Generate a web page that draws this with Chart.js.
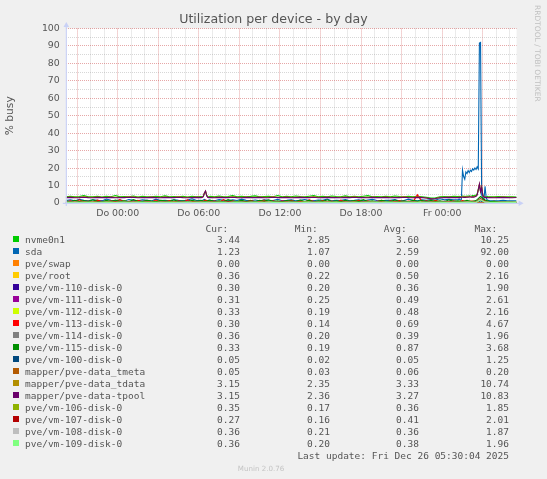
<!DOCTYPE html>
<html><head><meta charset="utf-8">
<script src="https://cdn.jsdelivr.net/npm/chart.js@4.4.1/dist/chart.umd.min.js"></script>
<style>
html,body{margin:0;padding:0;background:#f0f0f0;}
#wrap{position:relative;width:547px;height:479px;background:#f0f0f0;overflow:hidden;}
#wrap canvas{position:absolute;left:0;top:0;}
.t{position:absolute;white-space:pre;font-family:"DejaVu Sans Mono",monospace;font-size:9.5px;line-height:12px;color:#555;}
.r{text-align:right;}
.sw{position:absolute;width:6px;height:6px;}
#rrd{position:absolute;left:533px;top:5px;writing-mode:vertical-rl;font-family:"DejaVu Sans",sans-serif;font-size:7.5px;line-height:9px;color:#c0c0c0;white-space:nowrap;}
#munin{position:absolute;left:0;width:522px;text-align:center;top:463.6px;font-family:"DejaVu Sans",sans-serif;font-size:7.1px;line-height:9px;color:#c4c4c4;white-space:nowrap;}
</style></head>
<body><div id="wrap"><canvas id="c" width="547" height="479"></canvas>
<div id="rrd">RRDTOOL / TOBI OETIKER</div>
<div id="munin">Munin 2.0.76</div>
</div>
<script>
// ---------- data ----------
const chartTitle = "Utilization per device - by day";
const yAxisTitle = "% busy";
const lastUpdate = "Last update: Fri Dec 26 05:30:04 2025";
const columnHeads = ["Cur:", "Min:", "Avg:", "Max:"];

const seriesNames = ["nvme0n1","sda","pve/swap","pve/root","pve/vm-110-disk-0","pve/vm-111-disk-0","pve/vm-112-disk-0","pve/vm-113-disk-0","pve/vm-114-disk-0","pve/vm-115-disk-0","pve/vm-100-disk-0","mapper/pve-data_tmeta","mapper/pve-data_tdata","mapper/pve-data-tpool","pve/vm-106-disk-0","pve/vm-107-disk-0","pve/vm-108-disk-0","pve/vm-109-disk-0"];
const seriesColors = ["#00CC00","#0066B3","#FF8000","#FFCC00","#330099","#990099","#CCFF00","#FF0000","#808080","#008F00","#00487D","#B35A00","#B38F00","#6B006B","#8FB300","#B30000","#BEBEBE","#80FF80"];

const curVals = [3.44,1.23,0.00,0.36,0.30,0.31,0.33,0.30,0.36,0.33,0.05,0.05,3.15,3.15,0.35,0.27,0.36,0.36];
const minVals = [2.85,1.07,0.00,0.22,0.20,0.25,0.19,0.14,0.20,0.19,0.02,0.03,2.35,2.36,0.17,0.16,0.21,0.20];
const avgVals = [3.60,2.59,0.00,0.50,0.36,0.49,0.48,0.69,0.39,0.87,0.05,0.06,3.33,3.27,0.36,0.41,0.36,0.38];
const maxVals = [10.25,92.00,0.00,2.16,1.90,2.61,2.16,4.67,1.96,3.68,1.25,0.20,10.74,10.83,1.85,2.01,1.87,1.96];

// time axis (minutes since Wed 20:10, window of 2000 minutes)
const xTickMinutes = [230, 590, 950, 1310, 1670];
const xTickLabels = ["Do 00:00","Do 06:00","Do 12:00","Do 18:00","Fr 00:00"];
const firstHourMinute = 50;      // Wed 21:00
const windowMinutes = 2000;
// sampling grids: [from, to(exclusive), step]
const mainSegments = [[0,600,20],[600,640,5],[640,1740,20],[1740,1880,5],[1880,2001,20]];
const coarseSegments = [[0,2001,20]];

// main series (sampled on mainSegments)
const nvme0n1 = [
 3.6,3.9,3.5,3.7,4.2,3.5,3.6,3.8,3.4,3.9,3.6,4.3,3.5,3.7,3.6,4.0,3.4,3.8,3.6,3.5,3.9,3.6,4.1,3.5,3.7,3.6,3.9,3.4,3.8,3.6,
 3.7,3.6,3.9,5.6,6.5,4.4,3.7,3.6,
 3.8,3.5,4.0,3.6,3.7,4.2,3.5,3.9,3.6,3.8,4.1,3.5,3.7,3.9,3.6,4.3,3.5,3.8,3.6,4.0,3.7,3.5,3.9,4.2,3.6,3.8,3.5,4.0,3.7,3.6,4.1,3.5,3.8,3.6,3.9,4.2,3.5,3.7,3.6,3.9,3.5,4.0,3.7,3.6,3.8,3.5,3.9,3.6,3.2,2.85,3.0,3.5,3.7,3.6,3.8,
 3.7,3.8,3.6,3.9,4.0,3.8,3.9,3.7,4.0,3.9,4.1,3.9,4.0,4.2,4.1,4.3,4.5,5.2,7.8,10.25,6.9,8.6,4.8,3.9,3.7,3.6,3.8,3.5,
 3.6,3.5,3.7,3.6,3.5,3.6,3.44];
const sda = [
 1.4,1.8,1.2,2.1,1.5,1.3,1.9,1.6,1.2,2.3,1.5,1.4,1.7,1.2,2.0,1.6,1.3,1.8,1.5,1.2,2.2,1.4,1.6,1.3,1.9,1.5,1.2,1.7,2.4,1.4,
 1.5,1.3,1.8,2.1,1.6,1.4,1.2,1.7,
 1.5,1.3,2.0,1.6,1.2,1.8,1.4,2.2,1.5,1.3,1.7,1.2,1.9,1.6,1.4,2.1,1.3,1.5,1.8,1.2,1.6,2.0,1.4,1.3,1.7,1.5,2.3,1.2,1.6,1.4,1.9,1.3,1.5,1.8,1.2,1.7,2.1,1.4,1.3,1.6,1.5,1.9,1.2,1.4,2.2,1.6,1.3,1.8,1.5,2.0,1.7,2.4,1.8,2.1,1.9,
 1.9,2.3,1.7,2.0,18.9,15.2,13.6,17.8,16.9,18.6,17.4,18.8,18.1,19.6,18.9,20.1,19.2,20.7,19.5,91.6,92.0,4.8,2.2,1.9,9.6,2.8,1.7,1.5,
 1.4,1.3,1.2,1.5,1.3,1.2,1.23];
const pveDataTdata = [
 3.3,3.4,3.2,3.3,3.5,3.3,3.2,3.4,3.3,3.3,3.4,3.2,3.3,3.3,3.5,3.4,3.2,3.3,3.3,3.4,3.3,3.2,3.4,3.3,3.3,3.5,3.3,3.2,3.3,3.4,
 3.3,3.4,3.7,5.7,6.8,4.3,3.4,3.3,
 3.3,3.2,3.4,3.3,3.3,3.5,3.3,3.2,3.4,3.3,3.3,3.4,3.2,3.3,3.5,3.3,3.3,3.4,3.2,3.3,3.4,3.3,3.3,3.5,3.2,3.3,3.4,3.3,3.3,3.2,3.4,3.3,3.5,3.3,3.3,3.2,3.4,3.3,3.3,3.4,3.2,3.3,3.3,3.5,3.3,3.2,3.4,3.3,2.9,2.35,2.6,3.2,3.3,3.4,3.3,
 3.3,3.4,3.3,3.5,3.6,3.4,3.5,3.4,3.6,3.5,3.7,3.6,3.5,3.7,3.6,3.8,4.0,4.7,7.6,10.74,6.6,9.1,4.3,3.5,3.4,3.3,3.3,3.2,
 3.3,3.2,3.3,3.4,3.3,3.2,3.15];
const pveDataTpool = [
 3.1,3.2,3.0,3.1,3.3,3.1,3.0,3.2,3.1,3.1,3.2,3.0,3.1,3.1,3.3,3.2,3.0,3.1,3.1,3.2,3.1,3.0,3.2,3.1,3.1,3.3,3.1,3.0,3.1,3.2,
 3.1,3.2,3.6,5.8,6.9,4.2,3.2,3.1,
 3.1,3.0,3.2,3.1,3.1,3.3,3.1,3.0,3.2,3.1,3.1,3.2,3.0,3.1,3.3,3.1,3.1,3.2,3.0,3.1,3.2,3.1,3.1,3.3,3.0,3.1,3.2,3.1,3.1,3.0,3.2,3.1,3.3,3.1,3.1,3.0,3.2,3.1,3.1,3.2,3.0,3.1,3.1,3.3,3.1,3.0,3.2,3.1,2.9,2.36,2.6,3.0,3.1,3.2,3.1,
 3.1,3.2,3.1,3.3,3.4,3.2,3.3,3.2,3.4,3.3,3.5,3.4,3.3,3.5,3.4,3.6,3.9,4.6,7.5,10.83,6.5,9.0,4.2,3.3,3.2,3.1,3.1,3.0,
 3.1,3.0,3.1,3.2,3.1,3.0,3.15];

// small series (sampled on coarseSegments, 101 values)
const pveSwap = [
 0,0,0,0,0,0,0,0,0,0, 0,0,0,0,0,0,0,0,0,0, 0,0,0,0,0,0,0,0,0,0, 0,0,0,0,0,0,0,0,0,0, 0,0,0,0,0,0,0,0,0,0,
 0,0,0,0,0,0,0,0,0,0, 0,0,0,0,0,0,0,0,0,0, 0,0,0,0,0,0,0,0,0,0, 0,0,0,0,0,0,0,0,0,0, 0,0,0,0,0,0,0,0,0,0, 0];
const pveRoot = [
 .4,.5,.3,.6,.4,.5,.7,.4,.3,.5, .6,.4,.5,1.2,.4,.3,.5,.6,.4,.5, .3,.4,.6,.5,.4,.8,.5,.3,.4,.5, .6,.4,.3,.5,.7,.4,.5,.4,.6,.3,
 .5,.4,.9,.5,.3,.4,.6,.5,.4,.5, .3,.6,.4,.5,.4,.7,.5,.3,.4,.6, .5,.4,.3,.5,1.1,.4,.5,.6,.3,.4, .5,.6,.4,.3,.5,.4,.7,.5,.4,.3,
 .6,.5,.4,.5,.3,.4,.6,.5,.4,.8, .5,.4,2.16,.6,.4,.3,.5,.4,.3,.4, .36];
const vm110 = [
 .3,.4,.3,.9,.3,.4,.3,.3,1.1,.4, .3,.4,.3,.3,.8,.4,.3,.3,1.0,.3, .5,.3,.4,.3,.3,.9,.7,.3,.3,.4, .3,1.2,.4,.5,.3,.3,.4,.3,.3,.9,
 .4,.3,.3,1.0,.3,.6,.3,.4,.3,.3, .8,.3,.3,.5,.3,1.1,.3,.3,.4,.3, .3,.5,.3,.9,.3,.3,.4,.8,.3,.4, .3,.3,1.0,.3,.5,.3,.3,.4,.3,.3,
 .4,.3,.9,.5,.3,.4,.3,.3,.4,.6, .3,.4,1.9,.5,.3,.3,.4,.3,.3,.3, .3];
const vm111 = [
 .5,.4,1.1,.5,.4,.7,.5,1.3,.5,.6, .4,.5,.4,.8,.5,1.2,.6,.5,.4,.5, 1.0,.4,.5,.4,.5,.7,.4,1.4,.6,.4, .5,.4,.6,1.1,.4,.5,.9,.4,.5,.4,
 .6,1.2,.4,.5,.4,.6,.5,.4,1.3,.5, .4,.5,.6,.4,1.0,.4,.5,.6,.4,.5, .7,.4,1.2,.4,.6,.5,.4,.5,.4,1.1, .5,.4,.5,.8,.4,1.3,.4,.6,.5,.4,
 .5,.6,.4,1.0,.4,.5,.7,.4,.5,.5, .4,.6,2.61,.7,.4,.5,.4,.5,.4,.3, .31];
const vm112 = [
 .4,.5,.6,.4,.5,.4,.7,.5,.4,.6, .5,.4,.5,.6,.4,.5,.4,.5,.8,.4, .5,.4,.6,.5,.4,.5,.4,.6,.5,.4, .7,.5,.4,.5,.4,.6,.5,.4,.5,.4,
 .5,.6,.4,.5,1.0,.4,.5,.4,.6,.5, .4,.5,.4,.6,.5,.4,.5,.7,.4,.5, .4,.5,.6,.4,.5,.4,.5,.4,.6,.5, .4,.7,.5,.4,.5,.4,.6,.5,.4,.5,
 .4,.5,.6,.4,.5,.4,.5,.6,.4,.5, .4,.5,2.16,.6,.4,.5,.4,.5,.4,.4, .33];
const vm113 = [
 .6,1.3,.5,1.8,.7,1.1,.5,1.6,.8,.5, 1.2,.7,1.9,.5,1.0,.6,1.5,.8,1.3,.6, 1.7,.6,.9,1.4,.6,1.2,.5,1.8,.7,1.0, .5,1.6,.8,1.1,.5,1.9,.6,1.2,.7,1.4,
 .6,1.5,.7,1.0,1.7,.5,1.3,.6,1.1,.8, 1.6,.6,1.2,.5,1.8,.9,.6,1.4,.7,1.1, .5,1.7,.6,1.0,.8,1.5,.6,1.3,.5,.9, 1.6,.6,1.2,.8,1.4,.5,1.1,.7,4.67,.9,
 1.3,.6,1.5,.7,1.0,.6,1.2,.5,1.4,.7, 1.1,.8,2.3,1.2,.6,.9,.5,.7,.4,.4, .3];
const vm114 = [
 .4,.3,.4,.5,.3,.4,.4,.3,.5,.4, .3,.4,.4,.6,.3,.4,.3,.4,.5,.3, .4,.4,.3,.5,.4,.3,.4,.7,.3,.4, .4,.3,.5,.4,.3,.4,.4,.3,.4,.5,
 .3,.4,.4,.3,.6,.4,.3,.4,.4,.3, .5,.4,.3,.4,.4,.3,.5,.4,.3,.4, .4,.3,.4,.5,.3,.4,.8,.3,.4,.4, .3,.5,.4,.3,.4,.4,.3,.5,.4,.3,
 .4,.4,.3,.5,.4,.3,.4,.4,.3,.5, .4,.3,1.96,.5,.4,.3,.4,.4,.3,.4, .36];
const vm115 = [
 1.2,.7,1.6,.9,1.4,.8,1.8,1.0,.7,1.5, .9,1.7,.8,1.3,.7,1.9,1.0,.8,1.6,1.1, .7,1.5,1.2,.8,1.8,.9,1.3,.7,1.6,1.0, 1.4,.8,1.7,.9,1.2,.7,1.9,1.1,.8,1.5,
 .9,1.3,.7,1.6,1.0,1.8,.8,1.2,.7,1.4, 1.1,.8,1.7,.9,1.5,.7,1.3,1.0,1.8,.8, 1.2,.7,1.6,1.0,1.4,.8,1.9,.9,1.3,.7, 1.5,1.1,.8,1.7,.9,1.2,.7,1.6,1.0,1.4,
 .8,1.5,.9,1.3,.7,1.8,1.0,1.2,.8,1.6, .9,1.4,3.68,1.7,.8,1.0,.7,.6,.5,.4, .33];
const vm100 = [
 .05,.04,.05,.06,.05,.04,.05,.05,.06,.05, .04,.05,.05,.06,.05,.04,.05,.05,.04,.06, .05,.05,.04,.05,.06,.05,.04,.05,.05,.06, .05,.04,.05,.05,.06,.05,.04,.05,.05,.04,
 .06,.05,.05,.04,.05,.06,.05,.04,.05,.05, .06,.05,.04,.05,.05,.04,.06,.05,.05,.04, .05,.06,.05,.04,.05,.05,.06,.05,.04,.05, .05,.04,.06,.05,.05,.04,.05,.06,.05,.04,
 .05,.05,.06,.04,.05,.05,.04,.06,.05,.05, .04,.05,1.25,.06,.05,.04,.05,.05,.04,.05, .05];
const pveDataTmeta = [
 .06,.05,.07,.06,.05,.06,.07,.05,.06,.06, .05,.07,.06,.05,.06,.08,.05,.06,.07,.06, .05,.06,.06,.07,.05,.06,.05,.07,.06,.05, .06,.07,.05,.06,.06,.05,.07,.06,.05,.06,
 .07,.05,.06,.06,.05,.07,.06,.05,.06,.06, .05,.07,.06,.05,.06,.06,.07,.05,.06,.05, .06,.07,.05,.06,.06,.05,.07,.06,.05,.06, .06,.05,.07,.06,.05,.06,.06,.07,.05,.06,
 .05,.06,.07,.06,.05,.06,.06,.05,.07,.06, .05,.06,.20,.07,.06,.05,.06,.05,.06,.05, .05];
const vm106 = [
 .3,.4,.3,.4,.5,.3,.4,.3,.3,.4, .5,.3,.4,.3,.4,.3,.6,.3,.4,.3, .4,.3,.3,.5,.4,.3,.4,.3,.4,.3, .3,.4,.6,.3,.4,.3,.4,.3,.5,.3,
 .4,.3,.4,.3,.3,.5,.4,.3,.4,.3, .3,.4,.3,.7,.4,.3,.3,.4,.3,.4, .5,.3,.4,.3,.4,.3,.3,.5,.4,.3, .4,.3,.4,.3,.6,.3,.4,.3,.4,.3,
 .3,.4,.5,.3,.4,.3,.3,.4,.5,.3, .4,.3,1.85,.5,.3,.4,.3,.4,.3,.3, .35];
const vm107 = [
 .4,.5,.3,.4,.6,.4,.3,.5,.4,.3, .4,.6,.4,.3,.5,.4,.4,.3,.7,.4, .3,.4,.5,.4,.3,.4,.6,.3,.4,.5, .4,.3,.4,.5,.4,.3,.8,.4,.3,.4,
 .5,.4,.3,.4,.6,.4,.3,.5,.4,.3, .4,.5,.4,.3,.4,.6,.4,.3,.4,.5, .3,.4,.5,.4,.3,.4,.7,.4,.3,.4, .5,.4,.3,.4,.5,.4,.3,.6,.4,.3,
 .4,.5,.4,.3,.4,.5,.4,.3,.6,.4, .3,.5,2.01,.6,.4,.3,.4,.3,.3,.3, .27];
const vm108 = [
 .35,.4,.35,.3,.4,.35,.4,.3,.35,.4, .35,.3,.4,.35,.45,.35,.3,.4,.35,.4, .3,.35,.4,.35,.3,.4,.35,.5,.35,.3, .4,.35,.3,.4,.35,.4,.3,.35,.45,.35,
 .3,.4,.35,.4,.3,.35,.4,.35,.3,.4, .35,.4,.3,.35,.4,.35,.45,.3,.35,.4, .35,.3,.4,.35,.4,.3,.35,.4,.35,.5, .3,.35,.4,.35,.3,.4,.35,.4,.3,.35,
 .4,.35,.3,.4,.35,.45,.35,.3,.4,.35, .4,.35,1.87,.5,.35,.3,.4,.35,.35,.3, .36];
const vm109 = [
 .4,.35,.4,.45,.35,.4,.35,.4,.45,.35, .4,.35,.45,.4,.35,.4,.5,.35,.4,.35, .45,.4,.35,.4,.35,.45,.4,.35,.4,.5, .35,.4,.45,.35,.4,.35,.4,.45,.35,.4,
 .35,.45,.4,.35,.4,.5,.35,.4,.35,.4, .45,.35,.4,.35,.4,.45,.35,.4,.5,.35, .4,.35,.45,.4,.35,.4,.35,.45,.4,.35, .4,.5,.35,.4,.35,.45,.4,.35,.4,.35,
 .45,.4,.35,.4,.35,.45,.4,.35,.4,.5, .35,.4,1.96,.55,.4,.35,.4,.35,.35,.35, .36];

const seriesValues = [nvme0n1, sda, pveSwap, pveRoot, vm110, vm111, vm112, vm113, vm114, vm115, vm100, pveDataTmeta, pveDataTdata, pveDataTpool, vm106, vm107, vm108, vm109];
const seriesGrid = ["main","main","coarse","coarse","coarse","coarse","coarse","coarse","coarse","coarse","coarse","coarse","main","main","coarse","coarse","coarse","coarse"];

// ---------- build ----------
function buildTimes(segs){ const out=[]; segs.forEach(([a,b,s])=>{ for(let t=a;t<b;t+=s) out.push(t); }); return out; }
const grids = { main: buildTimes(mainSegments), coarse: buildTimes(coarseSegments) };

const hourGrid = [];
for (let m = firstHourMinute; m < windowMinutes; m += 60) hourGrid.push(m);
const yGrid = [];
for (let v = 0; v <= 100; v += 5) yGrid.push(v);

const textColor = '#555';
const majorGrid = 'rgba(200,60,60,0.45)';
const minorGrid = 'rgba(140,140,140,0.35)';
const axisColor = '#C9D1F6';

const datasets = seriesValues.map((vals, i) => {
  const times = grids[seriesGrid[i]];
  const n = Math.min(times.length, vals.length);
  const data = [];
  for (let k = 0; k < n; k++) data.push({x: times[k], y: vals[k]});
  return { label: seriesNames[i], data, borderColor: seriesColors[i], backgroundColor: seriesColors[i],
           borderWidth: 1.1, pointRadius: 0, tension: 0, fill: false, order: -i };
});

const rrdPlugin = {
  id: 'rrd',
  beforeDraw(chart){
    const {ctx, chartArea: a} = chart;
    ctx.save(); ctx.fillStyle = '#fff';
    ctx.fillRect(a.left, a.top, a.right - a.left, a.bottom - a.top);
    ctx.restore();
  },
  afterDatasetsDraw(chart){
    const {ctx, chartArea: a} = chart;
    ctx.save();
    ctx.strokeStyle = axisColor; ctx.fillStyle = axisColor; ctx.lineWidth = 1.2;
    ctx.beginPath();
    ctx.moveTo(a.left + 0.5, a.bottom + 3); ctx.lineTo(a.left + 0.5, a.top - 3);
    ctx.moveTo(a.left - 3, a.bottom + 0.3); ctx.lineTo(a.right + 3, a.bottom + 0.3);
    ctx.stroke();
    ctx.beginPath();
    ctx.moveTo(a.left + 0.5, a.top - 6.5); ctx.lineTo(a.left - 2.3, a.top - 1.5); ctx.lineTo(a.left + 3.3, a.top - 1.5); ctx.closePath();
    ctx.fill();
    ctx.beginPath();
    ctx.moveTo(a.right + 7, a.bottom + 0.3); ctx.lineTo(a.right + 2, a.bottom - 2.5); ctx.lineTo(a.right + 2, a.bottom + 3.1); ctx.closePath();
    ctx.fill();
    ctx.restore();
  }
};

new Chart(document.getElementById('c'), {
  type: 'line',
  data: { datasets },
  options: {
    responsive: false, animation: false, parsing: false, normalized: true,
    events: [],
    layout: { padding: { left: 0, right: 0, top: 0, bottom: 254 } },
    plugins: {
      legend: { display: false }, tooltip: { enabled: false },
      title: { display: true, text: chartTitle, color: textColor,
               font: { family: 'DejaVu Sans', size: 12.6, weight: 'normal' },
               padding: { top: 11.8, bottom: 1.6 } }
    },
    scales: {
      x: {
        type: 'linear', min: 0, max: windowMinutes,
        afterBuildTicks(s){ s.ticks = hourGrid.map(v => ({ value: v })); },
        afterFit(s){ s.height = 22; },
        grid: { color: c => ((c.tick.value - firstHourMinute) % 180 === 0 ? majorGrid : minorGrid), lineWidth: 1, drawTicks: false },
        border: { display: false, dash: [1, 1] },
        ticks: { autoSkip: false, maxRotation: 0, minRotation: 0, padding: 4.5, color: textColor,
                 font: { family: 'DejaVu Sans', size: 9.4 },
                 callback: v => { const j = xTickMinutes.indexOf(v); return j >= 0 ? xTickLabels[j] : ''; } }
      },
      y: {
        type: 'linear', min: 0, max: 100,
        afterBuildTicks(s){ s.ticks = yGrid.map(v => ({ value: v })); },
        afterFit(s){ s.width = 65.8; },
        grid: { color: c => (c.tick.value % 10 === 0 ? majorGrid : minorGrid), lineWidth: 1, drawTicks: false },
        border: { display: false, dash: [1, 1] },
        ticks: { autoSkip: false, padding: 6, color: textColor, font: { family: 'DejaVu Sans', size: 9.4 },
                 callback: v => (v % 10 === 0 ? String(v) : '') },
        title: { display: true, text: yAxisTitle, color: textColor, font: { family: 'DejaVu Sans', size: 10.7 },
                 padding: { top: 4, bottom: 0 } }
      },
      padR: {
        type: 'linear', position: 'right', display: true,
        grid: { display: false }, border: { display: false }, ticks: { display: false },
        afterFit(s){ s.width = 30.4; }
      }
    }
  },
  plugins: [rrdPlugin]
});

// ---------- legend (HTML text) ----------
const wrap = document.getElementById('wrap');
const W = 547;
const headRight = [228.3, 317.7, 406.7, 497.3];
const valRight = [240, 330, 419, 509];
function addText(txt, left, right, top){
  const d = document.createElement('div');
  d.className = 't' + (right != null ? ' r' : '');
  d.textContent = txt;
  if (left != null) d.style.left = left + 'px';
  if (right != null) d.style.right = (W - right) + 'px';
  d.style.top = top + 'px';
  wrap.appendChild(d);
}
columnHeads.forEach((h, j) => addText(h, null, headRight[j], 222.5));
const cols = [curVals, minVals, avgVals, maxVals];
seriesNames.forEach((name, i) => {
  const top = 233.9 + 12 * i;
  const sw = document.createElement('div');
  sw.className = 'sw'; sw.style.left = '13px'; sw.style.top = (top + 2.5) + 'px';
  sw.style.background = seriesColors[i];
  wrap.appendChild(sw);
  addText(name, 25, null, top);
  cols.forEach((arr, j) => addText(arr[i].toFixed(2), null, valRight[j], top));
});
addText(lastUpdate, null, 509, 449.9);
</script>
</body></html>
